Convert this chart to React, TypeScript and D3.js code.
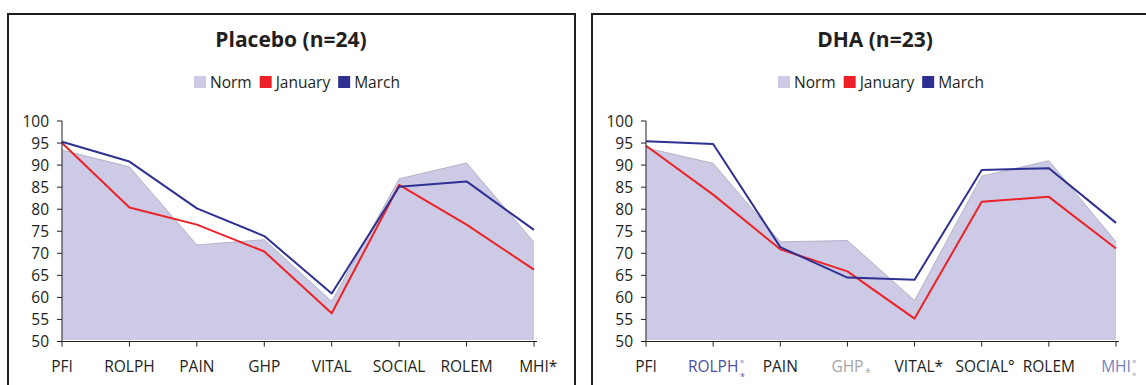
import React, { useEffect, useRef } from "react";
import * as d3 from "d3";

const categories = ["PFI", "ROLPH", "PAIN", "GHP", "VITAL", "SOCIAL", "ROLEM", "MHI"];
const yTicks = [50, 55, 60, 65, 70, 75, 80, 85, 90, 95, 100];
const legendLabels = ["Norm", "January", "March"];

const placeboNorm = [93.4, 89.6, 71.9, 73.1, 59.1, 86.9, 90.5, 72.5];
const placeboJanuary = [95.0, 80.4, 76.5, 70.4, 56.4, 85.5, 76.5, 66.3];
const placeboMarch = [95.3, 90.8, 80.2, 73.9, 60.9, 85.1, 86.3, 75.3];

const dhaNorm = [93.9, 90.4, 72.6, 72.9, 59.3, 87.5, 91.0, 72.6];
const dhaJanuary = [94.4, 83.3, 70.9, 65.9, 55.2, 81.7, 82.8, 71.1];
const dhaMarch = [95.4, 94.8, 71.4, 64.5, 64.0, 88.9, 89.3, 76.9];

type Mark = { kind: "none" | "inline" | "sub" | "stack"; glyphs: string[]; color: string };
const DARK = "#231f20";
const placeboMarks: Mark[] = [
  { kind: "none", glyphs: [], color: DARK },
  { kind: "none", glyphs: [], color: DARK },
  { kind: "none", glyphs: [], color: DARK },
  { kind: "none", glyphs: [], color: DARK },
  { kind: "none", glyphs: [], color: DARK },
  { kind: "none", glyphs: [], color: DARK },
  { kind: "none", glyphs: [], color: DARK },
  { kind: "inline", glyphs: ["*"], color: DARK },
];
const dhaMarks: Mark[] = [
  { kind: "none", glyphs: [], color: DARK },
  { kind: "stack", glyphs: ["°", "*"], color: "#4b4fa5" },
  { kind: "none", glyphs: [], color: DARK },
  { kind: "sub", glyphs: ["*"], color: "#a3a5a8" },
  { kind: "inline", glyphs: ["*"], color: DARK },
  { kind: "inline", glyphs: ["°"], color: DARK },
  { kind: "none", glyphs: [], color: DARK },
  { kind: "stack", glyphs: ["°", "°"], color: "#7282c2" },
];

const COLORS = { norm: "#cccae4", normStroke: "#a9a8bb", jan: "#ed2228", mar: "#2e3192" };
const FONT = "'Open Sans', sans-serif";

type Panel = {
  title: string;
  norm: number[];
  jan: number[];
  mar: number[];
  marks: Mark[];
  box: [number, number];
  xRange: [number, number];
  center: number;
};

const panels: Panel[] = [
  { title: "Placebo (n=24)", norm: placeboNorm, jan: placeboJanuary, mar: placeboMarch, marks: placeboMarks, box: [8, 575], xRange: [62, 534], center: 291 },
  { title: "DHA (n=23)", norm: dhaNorm, jan: dhaJanuary, mar: dhaMarch, marks: dhaMarks, box: [592, 1160], xRange: [646, 1116], center: 875 },
];

export default function App() {
  const ref = useRef<SVGSVGElement>(null);
  useEffect(() => {
    const svg = d3.select(ref.current);
    svg.selectAll("*").remove();
    const y = d3.scaleLinear().domain([50, 100]).range([341.5, 121]);

    panels.forEach((p) => {
      const g = svg.append("g");
      g.append("rect")
        .attr("x", p.box[0]).attr("y", 14)
        .attr("width", p.box[1] - p.box[0]).attr("height", 420)
        .attr("fill", "none").attr("stroke", DARK).attr("stroke-width", 2);

      g.append("text").attr("x", p.center).attr("y", 47)
        .attr("text-anchor", "middle").attr("font-family", FONT)
        .attr("font-weight", 700).attr("font-size", 21).attr("fill", DARK)
        .text(p.title);

      // legend
      const lg = g.append("g");
      const colors = [COLORS.norm, COLORS.jan, COLORS.mar];
      let cx = 0;
      legendLabels.forEach((lab, i) => {
        lg.append("rect").attr("x", cx).attr("y", 76).attr("width", 12).attr("height", 12).attr("fill", colors[i]);
        const t = lg.append("text").attr("x", cx + 16).attr("y", 88)
          .attr("font-family", FONT).attr("font-size", 15.5).attr("fill", DARK).text(lab);
        const w = (t.node() as SVGTextElement).getComputedTextLength();
        cx += 16 + w + (i < legendLabels.length - 1 ? 8 : 0);
      });
      lg.attr("transform", `translate(${p.center + 6 - cx / 2},0)`);

      const x = d3.scalePoint<string>().domain(categories).range(p.xRange);

      // area
      const area = d3.area<number>()
        .x((_, i) => x(categories[i])!)
        .y0(y(50) - 1.5)
        .y1((d) => y(d));
      g.append("path").attr("d", area(p.norm)!).attr("fill", COLORS.norm).attr("stroke", "none");
      const top = d3.line<number>().x((_, i) => x(categories[i])!).y((d) => y(d));
      g.append("path").attr("d", top(p.norm)!).attr("fill", "none")
        .attr("stroke", COLORS.normStroke).attr("stroke-width", 0.8);

      const line = d3.line<number>().x((_, i) => x(categories[i])!).y((d) => y(d));
      g.append("path").attr("d", line(p.jan)!).attr("fill", "none")
        .attr("stroke", COLORS.jan).attr("stroke-width", 2).attr("stroke-linejoin", "round");
      g.append("path").attr("d", line(p.mar)!).attr("fill", "none")
        .attr("stroke", COLORS.mar).attr("stroke-width", 2).attr("stroke-linejoin", "round");

      // y axis
      const x0 = p.xRange[0];
      g.append("line").attr("x1", x0).attr("x2", x0).attr("y1", y(100)).attr("y2", y(50) + 0.5)
        .attr("stroke", DARK).attr("stroke-width", 1);
      yTicks.forEach((v) => {
        g.append("line").attr("x1", x0 - 5).attr("x2", x0).attr("y1", y(v)).attr("y2", y(v))
          .attr("stroke", DARK).attr("stroke-width", 1);
        g.append("text").attr("x", x0 - 13).attr("y", y(v) + 5.5)
          .attr("text-anchor", "end").attr("font-family", FONT).attr("font-size", 15.5)
          .attr("fill", DARK).text(String(v));
      });

      // x axis
      g.append("line").attr("x1", x0 - 5).attr("x2", p.xRange[1] + 3).attr("y1", y(50)).attr("y2", y(50))
        .attr("stroke", DARK).attr("stroke-width", 1);
      categories.forEach((c, i) => {
        const cxp = x(c)!;
        g.append("line").attr("x1", cxp).attr("x2", cxp).attr("y1", y(50)).attr("y2", y(50) + 5)
          .attr("stroke", DARK).attr("stroke-width", 1);
        const m = p.marks[i];
        const t = g.append("text").attr("y", 372).attr("font-family", FONT).attr("font-size", 15.5)
          .attr("fill", m.color);
        const main = t.append("tspan").text(c);
        const w = (main.node() as SVGTSpanElement).getComputedTextLength();
        const lx = cxp - w / 2;
        t.attr("x", lx);
        main.attr("x", lx);
        const sx = lx + w + 1.5;
        if (m.kind === "inline") {
          t.append("tspan").text(m.glyphs[0]);
        } else if (m.kind === "sub") {
          t.append("tspan").attr("x", sx).attr("y", 376).attr("font-size", 11).text(m.glyphs[0]);
        } else if (m.kind === "stack") {
          t.append("tspan").attr("x", sx).attr("y", 367).attr("font-size", 9).text(m.glyphs[0]);
          t.append("tspan").attr("x", sx).attr("y", 380).attr("font-size", 9).text(m.glyphs[1]);
        }
      });
    });
  }, []);

  return (
    <svg ref={ref} width={1146} height={385}
      style={{ position: "absolute", left: 0, top: 0, background: "#fff" }} />
  );
}
